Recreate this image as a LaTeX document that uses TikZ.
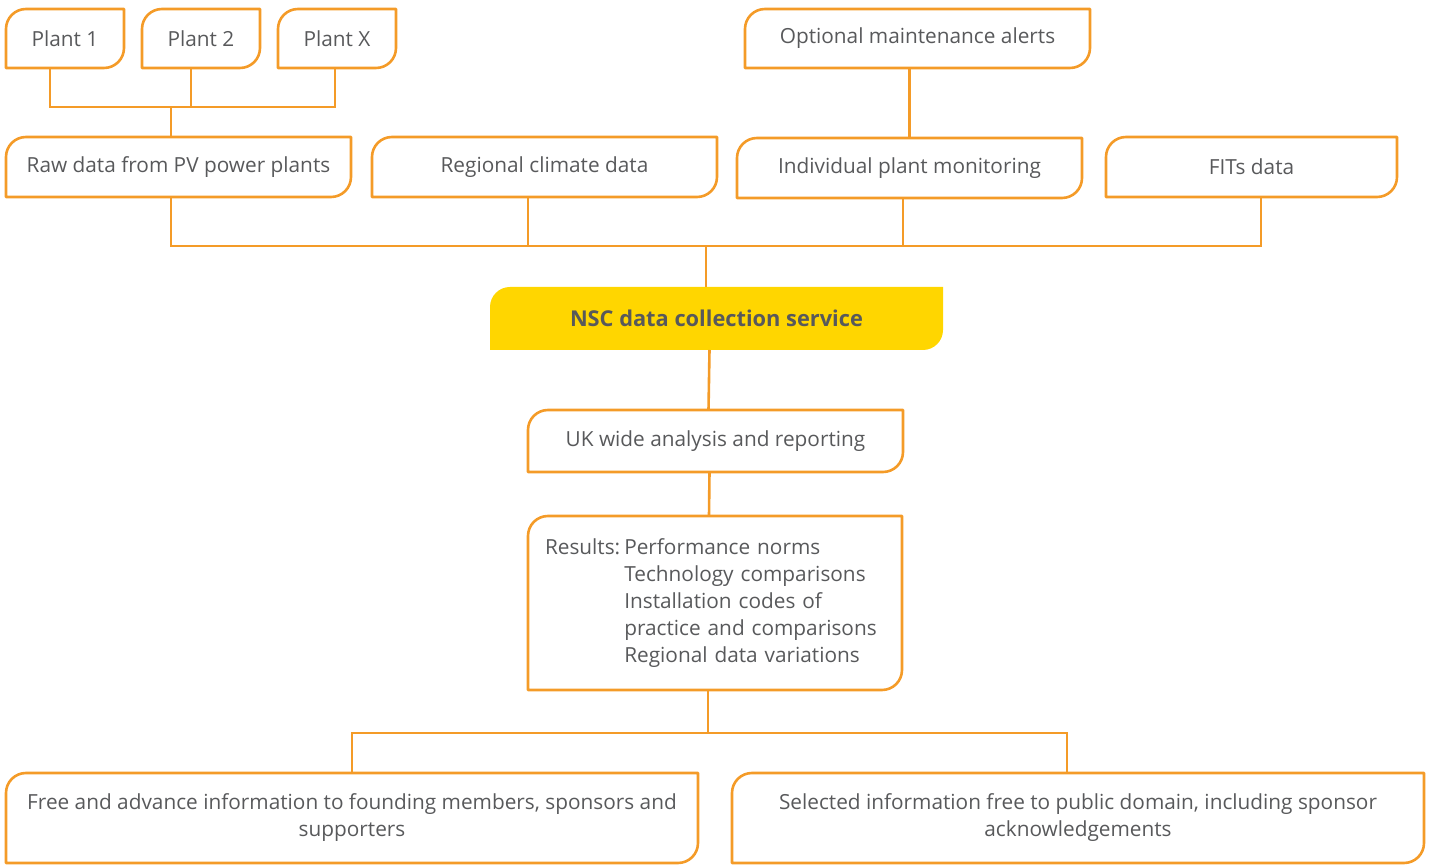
\documentclass[tikz,border=0pt]{standalone}
\usepackage{fontspec}
\setmainfont{Open Sans}
\usetikzlibrary{backgrounds}
\definecolor{nscOrange}{HTML}{F49B28}
\definecolor{nscYellow}{HTML}{FFD600}
\definecolor{nscText}{HTML}{58595B}

% frame with rounded top left and bottom right corners
\newcommand{\leafshape}[2][frame]{%
  \path[#1] (#2.south west) -- ([yshift=-10pt]#2.north west)
    arc[start angle=180, end angle=90, radius=10pt] -- (#2.north east)
    -- ([yshift=10pt]#2.south east)
    arc[start angle=0, end angle=-90, radius=10pt] -- cycle;}

\begin{document}
\begin{tikzpicture}[x=0.5pt, y=-0.5pt,
  box/.style={anchor=north west, inner sep=0pt, outer sep=0pt, align=center,
    text=nscText, font=\fontsize{10.4}{13.5}\selectfont},
  link/.style={draw=nscOrange, line width=1.3pt},
  frame/.style={draw=nscOrange, line width=1.3pt, line join=round}]
\useasboundingbox (0,0) rectangle (1431,865);

% plants and alerts
\node[box, minimum width=59pt, minimum height=29.5pt] (plant1) at (6,9) {Plant 1};
\node[box, minimum width=59pt, minimum height=29.5pt] (plant2) at (142,9) {Plant 2};
\node[box, minimum width=59pt, minimum height=29.5pt] (plantx) at (278,9) {Plant X};
\node[box, minimum width=172.5pt, minimum height=29.5pt] (alerts) at (745,9) {Optional maintenance alerts};

% data sources
\node[box, minimum width=172.5pt, minimum height=30pt] (raw) at (6,137) {Raw data from PV power plants};
\node[box, minimum width=172.5pt, minimum height=30pt] (climate) at (372,137) {Regional climate data};
\node[box, minimum width=172.5pt, minimum height=30pt] (monitor) at (737,138) {Individual plant monitoring};
\node[box, minimum width=145.5pt, minimum height=30pt] (fits) at (1106,137) {FITs data};

% service and results
\node[box, minimum width=226.5pt, minimum height=31.5pt,
  font=\fontsize{10.9}{13}\selectfont\bfseries] (nsc) at (490,287) {NSC data collection service};
\node[box, minimum width=187.5pt, minimum height=31pt] (uk) at (528,410) {UK wide analysis and reporting};
\node[box, minimum height=87pt, inner xsep=8.5pt, text width=170pt, align=left] (results) at (528,516)
  {\begin{tabular}{@{}l@{\hspace{2pt}}l@{}}
   Results: & Performance norms\\
            & Technology comparisons\\
            & Installation codes of\\
            & practice and comparisons\\
            & Regional data variations
   \end{tabular}};

% outputs
\node[box, minimum width=346pt, minimum height=45pt] (free) at (6,773)
  {Free and advance information to founding members, sponsors and\\supporters};
\node[box, minimum width=346pt, minimum height=45pt] (public) at (732,773)
  {Selected information free to public domain, including sponsor\\acknowledgements};

\begin{scope}[on background layer]
  \foreach \n in {plant1,plant2,plantx,alerts,raw,climate,monitor,fits,uk,results,free,public}
    \leafshape{\n};
  \leafshape[fill=nscYellow]{nsc};
\end{scope}

% connectors
\coordinate (plantbus) at (171,107);
\coordinate (inbus) at (706,246);
\coordinate (outbus) at (708,733);
\draw[link] ([xshift=-7.5pt]plant1.south) |- (plantbus) -| ([xshift=-1pt]plantx.south);
\draw[link] ([xshift=-5pt]plant2.south) -- ([xshift=-5pt]plant2.south |- plantbus);
\draw[link] (plantbus) -- (raw.north -| plantbus);
\draw[link] (alerts.south -| monitor.north) -- (monitor.north);
\draw[link] (raw.south -| plantbus) |- (inbus) -| ([xshift=4.75pt]fits.south);
\draw[link] ([xshift=-8.25pt]climate.south) -- ([xshift=-8.25pt]climate.south |- inbus);
\draw[link] ([xshift=-3.25pt]monitor.south) -- ([xshift=-3.25pt]monitor.south |- inbus);
\draw[link] (inbus) -- (nsc.north -| inbus);
\draw[link] ([xshift=-3.5pt]nsc.south) -- ([xshift=-3.5pt]uk.north);
\draw[link] ([xshift=-3pt]uk.south) -- ([xshift=-3pt]results.north);
\draw[link] (results.south -| outbus) -- (outbus);
\draw[link] (free.north) |- (outbus) -| ([xshift=-5.5pt]public.north);
\end{tikzpicture}
\end{document}
